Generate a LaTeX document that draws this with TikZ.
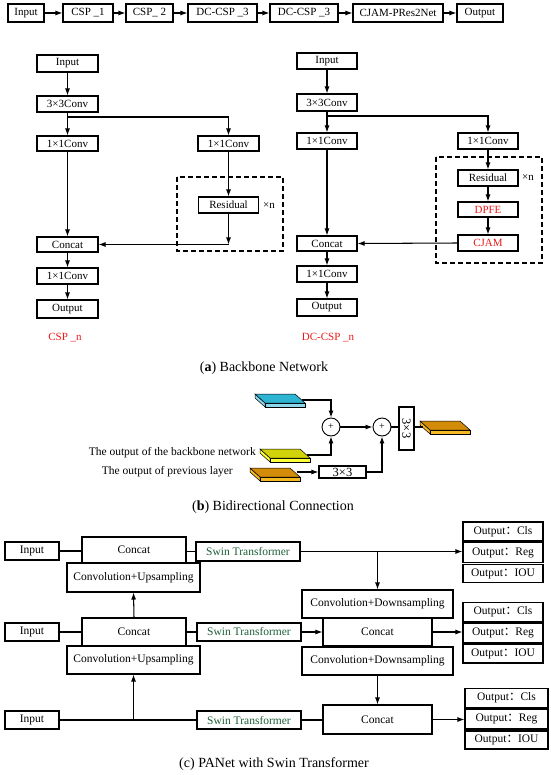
\documentclass[tikz,border=0pt]{standalone}
\usepackage{fontspec}
\setmainfont{Liberation Serif}
\newfontfamily\cjk{Noto Sans CJK SC}
\usetikzlibrary{arrows.meta}
\definecolor{swg}{RGB}{30,95,55}
\definecolor{redt}{RGB}{235,25,25}
\definecolor{cyT}{RGB}{45,180,210}
\definecolor{cyF}{RGB}{140,215,235}
\definecolor{yeT}{RGB}{210,210,10}
\definecolor{yeF}{RGB}{255,255,60}
\definecolor{orT}{RGB}{210,140,10}
\definecolor{orF}{RGB}{245,185,35}
\newcommand{\oc}{{\cjk ：}}
\tikzset{
 bx/.style={draw, line width=1.05pt, inner sep=0pt, font=\fontsize{11}{13}\selectfont, fill=white},
 cx/.style={bx, font=\fontsize{11.5}{13}\selectfont},
 wh/.style 2 args={minimum width=#1pt, minimum height=#2pt},
 arr/.style={line width=1.05pt, -{Latex[length=7pt,width=5pt]}},
 ln/.style={line width=1.05pt},
 dbox/.style={draw, line width=1.1pt, dash pattern=on 5pt off 3pt},
 captext/.style={font=\fontsize{14}{16}\selectfont, inner sep=0pt},
 lbl/.style={font=\fontsize{11}{13}\selectfont, inner sep=0pt},
 pics/slab/.style 2 args={code={
   \filldraw[fill=#2, draw=black, line width=0.5pt] (0,0) -- (10,9) -- (10,13) -- (0,4) -- cycle;
   \filldraw[fill=#2, draw=black, line width=0.5pt] (10,9) rectangle (50,13);
   \filldraw[fill=#1, draw=black, line width=0.5pt] (0,0) -- (40,0) -- (50,9) -- (10,9) -- cycle;
   \coordinate (-r) at (46.7,6);
   \coordinate (-l) at (2.5,6);
 }}
}
\begin{document}
\begin{tikzpicture}[x=1pt,y=-1pt]
\useasboundingbox (0,0) rectangle (550,775);
% ---------- top row
\node[bx, wh={36}{18}] (t0) at (26,13) {Input};
\node[bx, wh={50}{18}] (t1) at (88,13) {CSP \_1};
\node[bx, wh={47}{18}] (t2) at (149.5,13) {CSP\_ 2};
\node[bx, wh={69}{18}] (t3) at (222.5,13) {DC-CSP \_3};
\node[bx, wh={68}{18}] (t4) at (304,13) {DC-CSP \_3};
\node[bx, wh={90}{18}] (t5) at (398,13) {CJAM-PRes2Net};
\node[bx, wh={46}{18}] (t6) at (480,13) {Output};
\foreach \a/\b in {t0/t1,t1/t2,t2/t3,t3/t4,t4/t5,t5/t6} \draw[arr] (\a) -- (\b);
% ---------- CSP_n
\draw[dbox] (177,177) rectangle (283,251);
\node[bx, wh={61}{17}] (aIn) at (67.5,63.5) {Input};
\node[bx, wh={61}{16}] (a33) at (67.5,104) {3×3Conv};
\node[bx, wh={61}{15}] (aL1) at (67.5,143.5) {1×1Conv};
\node[bx, wh={61}{15}] (aR1) at (228.5,143.5) {1×1Conv};
\node[bx, wh={60}{16}] (aRes) at (228.5,205) {Residual};
\node[lbl] (axn) at (269,206) {×n};
\node[bx, wh={61}{15}] (aCat) at (67.5,244.5) {Concat};
\node[bx, wh={61}{16}] (aC2) at (67.5,276) {1×1Conv};
\node[bx, wh={61}{18}] (aOut) at (67.5,309) {Output};
\node[lbl, text=redt] (aLab) at (65,338) {CSP \_n};
\coordinate (aBr) at (67.5,117);
\coordinate (aCor) at (228.5,244.5);
\draw[arr] (aIn) -- (a33);
\draw[arr] (a33) -- (aL1);
\draw[arr] (aBr) -| (aR1.north);
\draw[arr] (aR1) -- (aRes);
\draw[arr] (aRes.south) -- (aCor);
\draw[arr] (aCor) -- (aCat.east);
\draw[arr] (aL1) -- (aCat);
\draw[arr] (aCat) -- (aC2);
\draw[arr] (aC2) -- (aOut);
% ---------- DC-CSP_n
\draw[dbox] (436,157) rectangle (542,263);
\node[bx, wh={60}{16}] (bIn) at (327,61) {Input};
\node[bx, wh={60}{17}] (b33) at (327,102.5) {3×3Conv};
\node[bx, wh={60}{16}] (bL1) at (327,141) {1×1Conv};
\node[bx, wh={60}{16}] (bR1) at (488,141) {1×1Conv};
\node[bx, wh={60}{16}] (bRes) at (488,178) {Residual};
\node[lbl] (bxn) at (528,178) {×n};
\node[bx, wh={60}{15}, text=redt] (bDP) at (488,209.5) {DPFE};
\node[bx, wh={60}{16}, text=redt] (bCJ) at (488,243) {CJAM};
\node[bx, wh={60}{15}] (bCat) at (327,243.5) {Concat};
\node[bx, wh={60}{16}] (bC2) at (327,274) {1×1Conv};
\node[bx, wh={60}{17}] (bOut) at (327,307.5) {Output};
\node[lbl, text=redt] (bLab) at (328,338) {DC-CSP \_n};
\coordinate (bBr) at (327,116);
\draw[arr] (bIn) -- (b33);
\draw[arr] (b33) -- (bL1);
\draw[arr] (bBr) -| (bR1.north);
\draw[arr] (bR1) -- (bRes);
\draw[arr] (bRes) -- (bDP);
\draw[arr] (bDP) -- (bCJ);
\draw[arr] (bCJ.west) -- (bCat.east);
\draw[arr] (bL1) -- (bCat);
\draw[arr] (bCat) -- (bC2);
\draw[arr] (bC2) -- (bOut);
\node[captext] (capa) at (264,368) {(\textbf{a}) Backbone Network};
% ---------- (b)
\pic (cy) at (255,394) {slab={cyT}{cyF}};
\pic (ye) at (260,449) {slab={yeT}{yeF}};
\pic (or) at (250,468) {slab={orT}{orF}};
\pic (os) at (420,421) {slab={orT}{orF}};
\node[draw, circle, minimum size=18pt, inner sep=0pt, line width=0.9pt, font=\fontsize{10}{10}\selectfont] (c1) at (331,427) {+};
\node[draw, circle, minimum size=18pt, inner sep=0pt, line width=0.9pt, font=\fontsize{10}{10}\selectfont] (c2) at (382,427) {+};
\node[bx, wh={15}{43}, font=\fontsize{12.5}{14}\selectfont] (v33) at (406.5,428.5) {\rotatebox{-90}{3×3}};
\node[bx, wh={47}{12}, font=\fontsize{12.5}{14}\selectfont] (h33) at (342.5,472) {3×3};
\node[anchor=east, inner sep=0pt, font=\fontsize{11.5}{13}\selectfont] (tb1) at (256,453) {The output of the backbone network};
\node[anchor=east, inner sep=0pt, font=\fontsize{11.5}{13}\selectfont] (tb2) at (233,472) {The output of previous layer};
\draw[arr] (cy-r) -| (c1.north);
\draw[arr] (ye-r) -| (c1.south);
\draw[arr] (c1.east) -- (c2.west);
\draw[arr] (h33.west -| or-r) -- (h33.west);
\draw[arr] (h33.east) -| (c2.south);
\draw[ln] (c2.east) -- (c2.east -| v33.west);
\draw[ln] (v33.east |- os-l) -- (os-l);
\node[captext] (capb) at (273,507) {(\textbf{b}) Bidirectional Connection};
% ---------- (c)
\node[cx, wh={54}{18}] (in1) at (32,551) {Input};
\node[cx, wh={104}{26}] (cat1) at (134,550) {Concat};
\node[cx, wh={133}{29}] (up1) at (133.5,577.5) {Convolution+Upsampling};
\node[cx, wh={104}{19}, text=swg] (sw1) at (248,551.5) {Swin Transformer};
\node[cx, wh={54}{18}] (in2) at (32,632) {Input};
\node[cx, wh={104}{28}] (cat2) at (134,632) {Concat};
\node[cx, wh={133}{28}] (up2) at (133.5,660) {Convolution+Upsampling};
\node[cx, wh={104}{18}, text=swg] (sw2) at (249,632) {Swin Transformer};
\node[cx, wh={54}{18}] (in3) at (32,720) {Input};
\node[cx, wh={104}{18}, text=swg] (sw3) at (249,720) {Swin Transformer};
\node[cx, wh={151}{28}] (dn1) at (377.5,604) {Convolution+Downsampling};
\node[cx, wh={109}{28}] (cat4) at (377.5,632) {Concat};
\node[cx, wh={151}{28}] (dn2) at (377.5,661) {Convolution+Downsampling};
\node[cx, wh={109}{29}] (cat5) at (377.5,719.5) {Concat};
\node[cx, wh={80}{19}] (cls1) at (503,531.5) {Output\oc Cls};
\node[cx, wh={80}{20}] (reg1) at (503,552.5) {Output\oc Reg};
\node[cx, wh={80}{18}] (iou1) at (503,573.5) {Output\oc IOU};
\node[cx, wh={80}{19}] (cls2) at (503,612) {Output\oc Cls};
\node[cx, wh={80}{20}] (reg2) at (503,633) {Output\oc Reg};
\node[cx, wh={80}{19}] (iou2) at (503,653.5) {Output\oc IOU};
\node[cx, wh={83}{19}] (cls3) at (506.5,698) {Output\oc Cls};
\node[cx, wh={83}{20}] (reg3) at (506.5,719) {Output\oc Reg};
\node[cx, wh={83}{18}] (iou3) at (506.5,740) {Output\oc IOU};
\draw[ln] (in1.east) -- (in1.east -| cat1.west);
\draw[ln] (sw1.west -| cat1.east) -- (sw1.west);
\draw[arr] (sw1.east) -- (sw1.east -| reg1.west);
\draw[arr] (sw1.east -| dn1.north) -- (dn1.north);
\draw[arr] (cat2.north) -- (up1.south);
\draw[ln] (in2.east) -- (in2.east -| cat2.west);
\draw[ln] (cat2.east) -- (sw2.west);
\draw[arr] (sw2.east) -- (cat4.west);
\draw[arr] (cat4.east) -- (cat4.east -| reg2.west);
\draw[arr] (dn2.south) -- (cat5.north);
\draw[ln] (in3.east) -- (sw3.west);
\draw[arr] (in3.east -| up2.south) -- (up2.south);
\draw[ln] (sw3.east) -- (sw3.east -| cat5.west);
\draw[arr] (cat5.east) -- (cat5.east -| reg3.west);
\node[captext] (capc) at (274,764) {(c) PANet with Swin Transformer};
\end{tikzpicture}
\end{document}
